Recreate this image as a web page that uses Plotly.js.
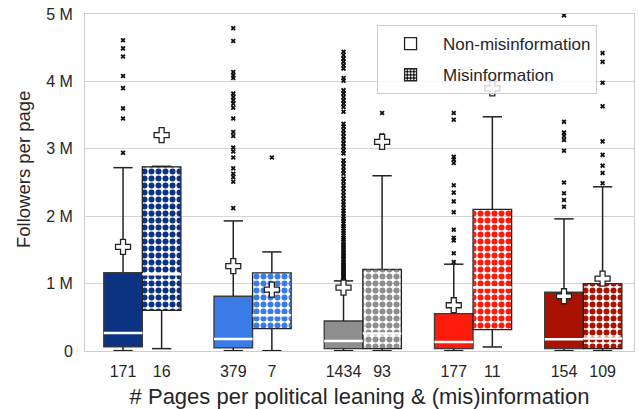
<!DOCTYPE html>
<html><head><meta charset="utf-8">
<script src="https://cdn.plot.ly/plotly-3.0.1.min.js"></script>
<style>html,body{margin:0;padding:0;background:#fff}#chart{width:639px;height:409px}</style>
</head><body><div id="chart"></div>
<script>
// Political leaning groups (left to right)
const groups = ['Far left', 'Slightly left', 'Center', 'Slightly right', 'Far right'];
const groupColors = ['#0c3381', '#3a7be6', '#8e8e8e', '#ff1a0a', '#a91200'];
// Tick labels: number of pages
const nonMisCount = [171, 379, 1434, 177, 154];
const misCount = [16, 7, 93, 11, 109];
const yTickVals = [0, 1, 2, 3, 4, 5];
const yTickText = ['0', '1 M', '2 M', '3 M', '4 M', '5 M'];

// Followers per page, in millions — Non-misinformation
const nonMisLow = [0.005, 0.005, 0.005, 0.005, 0.005];
const nonMisQ1 = [0.06, 0.045, 0.035, 0.035, 0.035];
const nonMisMedian = [0.267, 0.178, 0.148, 0.134, 0.174];
const nonMisQ3 = [1.164, 0.812, 0.445, 0.555, 0.872];
const nonMisHigh = [2.72, 1.93, 1.04, 1.288, 1.96];
const nonMisMean = [1.545, 1.258, 0.941, 0.679, 0.812];
const nonMisOutliers = [
  [4.61, 4.49, 4.37, 4.08, 3.90, 3.60, 3.45, 2.94],
  [4.79, 4.60, 4.14, 4.09, 4.05, 3.82, 3.77, 3.72, 3.67, 3.61, 3.45, 3.25, 3.19, 3.02, 2.96, 2.87, 2.71, 2.63, 2.58, 2.51, 2.12],
  [1.05, 1.06, 1.08, 1.09, 1.10, 1.12, 1.13, 1.15, 1.17, 1.18, 1.20, 1.22, 1.24, 1.26, 1.28, 1.30, 1.32, 1.35, 1.37, 1.40,
   1.42, 1.45, 1.47, 1.50, 1.53, 1.56, 1.58, 1.62, 1.65, 1.68, 1.71, 1.75, 1.78, 1.82, 1.85, 1.89, 1.93, 1.96, 2.00, 2.04,
   2.08, 2.12, 2.17, 2.21, 2.26, 2.31, 2.36, 2.41, 2.46, 2.51, 2.56, 2.63, 2.68, 2.73, 2.78, 2.83, 2.93, 2.98, 3.03, 3.08,
   3.13, 3.18, 3.23, 3.28, 3.33, 3.37, 3.55, 3.62, 3.67, 3.72, 3.77, 3.82, 3.87, 4.01, 4.05, 4.19, 4.24, 4.29, 4.34, 4.39, 4.44],
  [3.53, 3.43, 2.88, 2.84, 2.79, 2.46, 2.35, 2.22, 2.06, 1.80, 1.68, 1.64, 1.45, 1.32],
  [4.98, 3.40, 3.24, 3.19, 3.13, 2.97, 2.50, 2.34, 2.24, 2.14]
];

// Misinformation
const misLow = [0.035, 0.005, 0.005, 0.06, 0.005];
const misQ1 = [0.604, 0.333, 0.035, 0.318, 0.035];
const misMedian = [1.139, 0.53, 0.258, 0.941, 0.184];
const misQ3 = [2.733, 1.158, 1.209, 2.10, 1.0];
const misHigh = [2.74, 1.47, 2.60, 3.475, 2.436];
const misMean = [3.203, 0.912, 3.104, 3.897, 1.075];
const misOutliers = [
  [],
  [2.87],
  [3.53, 3.20],
  [],
  [4.42, 4.29, 3.98, 3.63, 3.11, 2.91, 2.75, 2.64, 2.49]
];

const BOXW = 0.35, OFF = 0.175, CAP = 0.0875;
const idx = groups.map((g, i) => i);
const posN = idx.map(i => i - OFF);
const posM = idx.map(i => i + OFF);

function whiskers(pos, low, q1, q3, high) {
  const x = [], y = [];
  pos.forEach((p, i) => {
    x.push(p, p, null, p - CAP, p + CAP, null, p, p, null, p - CAP, p + CAP, null);
    y.push(q3[i], high[i], null, high[i], high[i], null, q1[i], low[i], null, low[i], low[i], null);
  });
  return {type: 'scatter', mode: 'lines', x, y, line: {color: '#222', width: 1.5}, showlegend: false, hoverinfo: 'skip'};
}
function medians(pos, med) {
  const x = [], y = [];
  pos.forEach((p, i) => { x.push(p - BOXW / 2, p + BOXW / 2, null); y.push(med[i], med[i], null); });
  return {type: 'scatter', mode: 'lines', x, y, line: {color: '#ffffff', width: 2.5}, showlegend: false, hoverinfo: 'skip'};
}
function outliers(pos, outs) {
  const x = [], y = [];
  pos.forEach((p, i) => outs[i].forEach(v => { x.push(p); y.push(v); }));
  return {type: 'scatter', mode: 'markers', x, y, marker: {symbol: 'x', size: 4.5, color: '#111'}, showlegend: false, hoverinfo: 'skip', cliponaxis: true};
}
function means(pos, mean) {
  return {type: 'scatter', mode: 'markers', x: pos, y: mean,
    marker: {symbol: 'cross', size: 12.5, color: '#ffffff', line: {color: '#222', width: 1.3}},
    showlegend: false, hoverinfo: 'skip', cliponaxis: false};
}

const traces = [
  whiskers(posN, nonMisLow, nonMisQ1, nonMisQ3, nonMisHigh),
  whiskers(posM, misLow, misQ1, misQ3, misHigh),
  {type: 'bar', x: posN, base: nonMisQ1, y: idx.map(i => nonMisQ3[i] - nonMisQ1[i]), width: BOXW,
   marker: {color: groupColors, line: {color: '#3a3a3a', width: 1.3}}, showlegend: false, hoverinfo: 'skip'},
  {type: 'bar', x: posM, base: misQ1, y: idx.map(i => misQ3[i] - misQ1[i]), width: BOXW,
   marker: {color: groupColors, line: {color: '#222', width: 1.3},
     pattern: {shape: '.', bgcolor: groupColors, fgcolor: '#ffffff', size: 7, solidity: 0.58, fillmode: 'replace'}},
   showlegend: false, hoverinfo: 'skip'},
  {type: 'bar', x: posM, base: misQ1, y: idx.map(i => misQ3[i] - misQ1[i]), width: BOXW,
   marker: {color: groupColors, line: {width: 0},
     pattern: {shape: '.', bgcolor: 'rgba(0,0,0,0)', fgcolor: groupColors, size: 7, solidity: 0.2, fillmode: 'replace'}},
   showlegend: false, hoverinfo: 'skip'},
  medians(posN, nonMisMedian),
  medians(posM, misMedian),
  outliers(posN, nonMisOutliers),
  outliers(posM, misOutliers),
  means(posN, nonMisMean),
  means(posM, misMean),
  // legend entries
  {type: 'bar', x: [null], y: [null], name: 'Non-misinformation', legendgroup: 'a',
   marker: {color: '#ffffff', line: {color: '#222', width: 1.3}}},
  {type: 'bar', x: [null], y: [null], name: 'Misinformation', legendgroup: 'b',
   marker: {color: '#000000', line: {color: '#222', width: 1.3},
     pattern: {shape: '.', bgcolor: '#000000', fgcolor: '#ffffff', size: 4, solidity: 0.45}}}
];

const tickVals = [], tickText = [];
idx.forEach(i => { tickVals.push(posN[i], posM[i]); tickText.push(String(nonMisCount[i]), String(misCount[i])); });

const layout = {
  width: 639, height: 409,
  margin: {l: 85, r: 5, t: 14, b: 58},
  paper_bgcolor: '#ffffff', plot_bgcolor: '#ffffff',
  font: {family: '"Liberation Sans", Arial, sans-serif', color: '#262626', size: 16},
  barmode: 'overlay',
  showlegend: true,
  legend: {x: 0.532, y: 0.967, xanchor: 'left', yanchor: 'top', bgcolor: 'rgba(255,255,255,0.8)',
    bordercolor: '#cccccc', borderwidth: 1, font: {size: 17, color: '#262626'}, tracegroupgap: 6, itemwidth: 55},
  xaxis: {range: [-0.52, 4.46], tickvals: tickVals, ticktext: tickText, ticks: '', showgrid: false, zeroline: false,
    showline: true, linecolor: '#cccccc', linewidth: 1, mirror: true, tickfont: {size: 16},
    ticklabelstandoff: 6,
    title: {text: '# Pages per political leaning & (mis)information', font: {size: 22}, standoff: 9}},
  yaxis: {range: [0, 5], tickvals: yTickVals, ticktext: yTickText, ticks: '', showgrid: true, gridcolor: '#d4d4d4', gridwidth: 1,
    zeroline: false, showline: true, linecolor: '#cccccc', linewidth: 1, mirror: true, tickfont: {size: 16},
    ticklabelstandoff: 8},
  annotations: [{text: 'Followers per page', xref: 'paper', yref: 'paper', x: -0.113, y: 0.54,
    xanchor: 'center', yanchor: 'middle', textangle: -90, showarrow: false, font: {size: 18.5, color: '#262626'}}]
};

Plotly.newPlot('chart', traces, layout, {displayModeBar: false, staticPlot: true});
</script>
</body></html>
